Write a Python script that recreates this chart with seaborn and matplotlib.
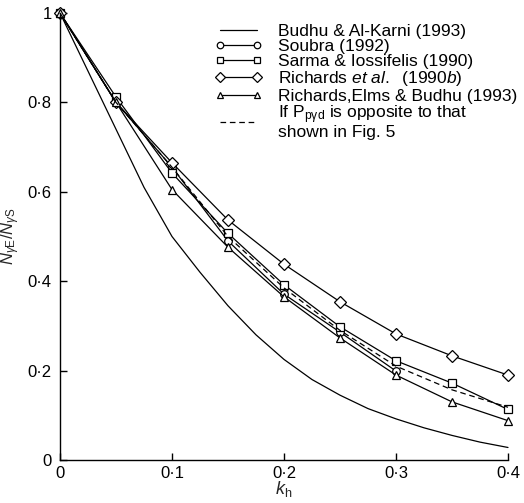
import numpy as np
import pandas as pd
import matplotlib
matplotlib.use("Agg")
import matplotlib.pyplot as plt
import seaborn as sns

# ---- data ----
kh_budhu = [0.0, 0.025, 0.05, 0.075, 0.1, 0.125, 0.15, 0.175, 0.2, 0.225, 0.25,
            0.275, 0.3, 0.325, 0.35, 0.375, 0.4]
budhu = [1.0, 0.87, 0.74, 0.61, 0.50, 0.42, 0.345, 0.28, 0.225, 0.18, 0.145,
         0.115, 0.092, 0.072, 0.055, 0.04, 0.028]

kh_soubra = [0.0, 0.05, 0.1, 0.15, 0.2, 0.25, 0.3]
soubra = [1.0, 0.80, 0.655, 0.49, 0.371, 0.286, 0.199]

kh_sarma = [0.0, 0.05, 0.1, 0.15, 0.2, 0.25, 0.3, 0.35, 0.4]
sarma = [1.0, 0.812, 0.642, 0.507, 0.392, 0.298, 0.222, 0.172, 0.113]

kh_rich = [0.0, 0.05, 0.1, 0.15, 0.2, 0.25, 0.3, 0.35, 0.4]
rich = [1.0, 0.80, 0.665, 0.537, 0.438, 0.354, 0.282, 0.233, 0.19]

kh_reb = [0.0, 0.05, 0.1, 0.15, 0.2, 0.25, 0.3, 0.35, 0.4]
reb = [1.0, 0.80, 0.605, 0.476, 0.365, 0.273, 0.19, 0.13, 0.088]

kh_dash = [0.0, 0.05, 0.1, 0.15, 0.2, 0.25, 0.3, 0.35, 0.4]
dash = [1.0, 0.80, 0.655, 0.50, 0.385, 0.29, 0.21, 0.157, 0.118]

labels = [
    "Budhu & Al-Karni (1993)",
    "Soubra (1992)",
    "Sarma & Iossifelis (1990)",
    r"Richards $\mathit{et\ al.}$  $\mathit{(1990b)}$",
    "Richards,Elms & Budhu (1993)",
    "If P$_{\\mathrm{p\\gamma d}}$ is opposite to that\nshown in Fig. 5",
]
xticks = [0.0, 0.1, 0.2, 0.3, 0.4]
xticklabels = ["0", "0·1", "0·2", "0·3", "0·4"]
yticks = [0.0, 0.2, 0.4, 0.6, 0.8, 1.0]
yticklabels = ["0", "0·2", "0·4", "0·6", "0·8", "1"]

sns.set_style("ticks")
plt.rcParams["font.family"] = ["Liberation Sans", "DejaVu Sans"]
plt.rcParams["mathtext.fontset"] = "custom"
plt.rcParams["mathtext.rm"] = "Liberation Sans"
plt.rcParams["mathtext.it"] = "Liberation Sans:italic"
plt.rcParams["mathtext.bf"] = "Liberation Sans:bold"

fig = plt.figure(figsize=(5.24, 5.03), dpi=100)
ax = fig.add_axes([60 / 524, 43 / 503, 448 / 524, 447 / 503])

lw = 0.9
common = dict(color="black", linewidth=lw, ax=ax, clip_on=False)
mk = dict(markerfacecolor="white", markeredgecolor="black", markeredgewidth=0.9)

sns.lineplot(x=kh_budhu, y=budhu, label=labels[0], **common)
sns.lineplot(x=kh_soubra, y=soubra, marker="o", markersize=5.5, label=labels[1], **common, **mk)
sns.lineplot(x=kh_sarma, y=sarma, marker="s", markersize=5.5, label=labels[2], **common, **mk)
sns.lineplot(x=kh_rich, y=rich, marker="D", markersize=6, label=labels[3], **common, **mk)
sns.lineplot(x=kh_reb, y=reb, marker="^", markersize=5.5, label=labels[4], **common, **mk)
sns.lineplot(x=kh_dash, y=dash, linestyle=(0, (4.5, 3)), label=labels[5], **common)

ax.set_xlim(0, 0.4)
ax.set_ylim(0, 1)
ax.set_xticks(xticks)
ax.set_xticklabels(xticklabels)
ax.set_yticks(yticks)
ax.set_yticklabels(yticklabels)
ax.tick_params(direction="in", length=5, width=1, labelsize=12, colors="black")
ax.tick_params(axis="y", pad=6)
ax.tick_params(axis="x", pad=4)
for s in ["top", "right"]:
    ax.spines[s].set_visible(False)
for s in ["left", "bottom"]:
    ax.spines[s].set_linewidth(1)
    ax.spines[s].set_color("black")

ax.set_xlabel(r"$k_{\mathrm{h}}$", fontsize=13, labelpad=-1)
ax.set_ylabel(r"$N_{\gamma\mathrm{E}}/N_{\gamma\mathrm{S}}$", fontsize=12, labelpad=4)

handles, labs = ax.get_legend_handles_labels()
leg = ax.legend(handles, labs, loc="upper left", bbox_to_anchor=(215 / 524, 1 - 24 / 503),
                bbox_transform=fig.transFigure, frameon=False, fontsize=12.5,
                numpoints=2, handlelength=2.7, handletextpad=0.9, borderpad=0,
                borderaxespad=0, labelspacing=0.0, markerscale=0.85)
for t in leg.get_texts():
    t.set_color("black")
    t.set_linespacing(0.9)

fig.savefig("out.png", dpi=100)
